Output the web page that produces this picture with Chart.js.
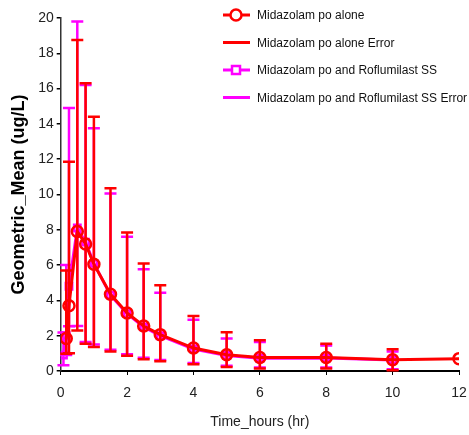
<!DOCTYPE html>
<html><head><meta charset="utf-8">
<script src="https://cdn.jsdelivr.net/npm/chart.js@4/dist/chart.umd.min.js"></script>
<style>html,body{margin:0;padding:0;background:#fff;}canvas{display:block;}</style>
</head><body>
<canvas id="c" width="469" height="435"></canvas>
<script>
// ---- data ----
const timeHours = [0.083, 0.167, 0.25, 0.5, 0.75, 1, 1.5, 2, 2.5, 3, 4, 5, 6, 8, 10, 12];
const aloneMean  = [null, 1.84, 3.70, 7.90, 7.20, 6.05, 4.35, 3.29, 2.55, 2.06, 1.30, 0.92, 0.76, 0.76, 0.64, 0.70];
const aloneUpper = [null, 5.70, 11.85, 18.75, 16.30, 14.40, 10.35, 7.85, 6.09, 4.86, 3.12, 2.20, 1.74, 1.55, 1.23, null];
const aloneLower = [null, 0.98, 1.00, 2.30, 1.55, 1.36, 1.10, 0.87, 0.66, 0.55, 0.38, 0.23, 0.14, 0.14, 0.04, null];
const comboMean  = [0.90, 2.00, 4.80, 8.10, 7.30, 6.10, 4.30, 3.25, 2.50, 2.00, 1.25, 0.88, 0.72, 0.74, 0.62, null];
const comboUpper = [2.18, 6.00, 14.90, 19.80, 16.20, 13.75, 10.05, 7.60, 5.77, 4.44, 2.91, 1.84, 1.65, 1.45, 1.10, null];
const comboLower = [0.32, 0.90, 2.53, 2.55, 1.64, 1.50, 1.20, 0.95, 0.75, 0.62, 0.45, 0.30, 0.20, 0.20, 0.10, null];
const seriesLabels = ["Midazolam po alone", "Midazolam po alone Error",
                      "Midazolam po and Roflumilast SS", "Midazolam po and Roflumilast SS Error"];
const xTicks = [0, 2, 4, 6, 8, 10, 12];
const yTicks = [0, 2, 4, 6, 8, 10, 12, 14, 16, 18, 20];
const xTitle = "Time_hours (hr)";
const yTitle = "Geometric_Mean (ug/L)";

const RED = '#ff0000', MAG = '#ff00ff';
const FONT = "'Liberation Sans', Arial, sans-serif";

function pts(mean) {
  return timeHours.map((t, i) => ({x: t, y: mean[i]})).filter(p => p.y != null);
}

const errorSets = [
  {upper: aloneUpper, lower: aloneLower, color: RED},
  {upper: comboUpper, lower: comboLower, color: MAG}
];

const errorBarPlugin = {
  id: 'errorBars',
  afterDatasetDraw(chart, args) {
    const e = errorSets[args.index];
    if (!e) return;
    const ctx = chart.ctx, xs = chart.scales.x, ys = chart.scales.y;
    ctx.save();
    ctx.strokeStyle = e.color;
    ctx.lineWidth = 2.5;
    timeHours.forEach((t, i) => {
      if (e.upper[i] == null) return;
      const px = xs.getPixelForValue(t);
      const pu = ys.getPixelForValue(e.upper[i]);
      const pl = ys.getPixelForValue(e.lower[i]);
      ctx.beginPath();
      ctx.moveTo(px, pu); ctx.lineTo(px, pl);
      ctx.moveTo(px - 6, pu); ctx.lineTo(px + 6, pu);
      ctx.moveTo(px - 6, pl); ctx.lineTo(px + 6, pl);
      ctx.stroke();
    });
    ctx.restore();
  }
};

const legendItems = [
  {color: RED, marker: 'circle'},
  {color: RED, marker: null},
  {color: MAG, marker: 'rect'},
  {color: MAG, marker: null}
];
const legendPlugin = {
  id: 'customLegend',
  afterDraw(chart) {
    const ctx = chart.ctx;
    const x0 = chart.chartArea.right - 236, y0 = chart.chartArea.top - 3, dy = 27.5;
    ctx.save();
    ctx.font = "12px " + FONT;
    ctx.textBaseline = 'middle';
    legendItems.forEach((it, i) => {
      const y = y0 + i * dy;
      ctx.strokeStyle = it.color;
      ctx.lineWidth = 3;
      ctx.beginPath(); ctx.moveTo(x0, y); ctx.lineTo(x0 + 27, y); ctx.stroke();
      ctx.lineWidth = 2.5;
      if (it.marker === 'circle') {
        ctx.fillStyle = '#fff';
        ctx.beginPath(); ctx.arc(x0 + 13, y, 5.5, 0, Math.PI * 2); ctx.fill(); ctx.stroke();
      } else if (it.marker === 'rect') {
        ctx.fillStyle = '#fff';
        ctx.fillRect(x0 + 9, y - 4, 8, 8); ctx.strokeRect(x0 + 9, y - 4, 8, 8);
      }
      ctx.fillStyle = '#111';
      ctx.fillText(seriesLabels[i], x0 + 34, y + 1);
    });
    ctx.restore();
  }
};

new Chart(document.getElementById('c'), {
  type: 'line',
  data: {
    datasets: [
      {label: seriesLabels[0], data: pts(aloneMean), borderColor: RED, borderWidth: 3,
       pointStyle: 'circle', pointRadius: 5.5, pointBorderWidth: 2.5, pointBorderColor: RED,
       pointBackgroundColor: 'rgba(0,0,0,0)', tension: 0, fill: false},
      {label: seriesLabels[2], data: pts(comboMean), borderColor: MAG, borderWidth: 3,
       pointStyle: 'rect', pointRadius: 4.5, pointBorderWidth: 2.5, pointBorderColor: MAG,
       pointBackgroundColor: 'rgba(0,0,0,0)', tension: 0, fill: false}
    ]
  },
  options: {
    responsive: false,
    animation: false,
    devicePixelRatio: 1,
    layout: {padding: {top: 18, right: 10, left: 0, bottom: 0}},
    plugins: {legend: {display: false}, tooltip: {enabled: false}},
    scales: {
      x: {
        type: 'linear', min: 0, max: 12,
        afterBuildTicks: s => { s.ticks = xTicks.map(v => ({value: v})); },
        afterFit: s => { s.height = 64; s.paddingRight = 0; s.paddingLeft = 0; },
        grid: {display: true, drawOnChartArea: false, drawTicks: true, tickLength: 4, color: '#000', lineWidth: 1},
        border: {display: true, color: '#000', width: 2},
        ticks: {color: '#222', font: {family: FONT, size: 14}, padding: 10, maxRotation: 0},
        title: {display: true, text: xTitle, color: '#222', font: {family: FONT, size: 14}, padding: {top: 4, bottom: 4}}
      },
      y: {
        type: 'linear', min: 0, max: 20,
        afterBuildTicks: s => { s.ticks = yTicks.map(v => ({value: v})); },
        afterFit: s => { s.width = 60.7; },
        grid: {display: true, drawOnChartArea: false, drawTicks: true, tickLength: 4, color: '#000', lineWidth: 1.5},
        border: {display: true, color: '#333', width: 1.5},
        ticks: {color: '#222', font: {family: FONT, size: 14}, padding: 3},
        title: {display: true, text: yTitle, color: '#000', font: {family: FONT, size: 18, weight: 'bold'}, padding: {top: 8, bottom: 2}}
      }
    }
  },
  plugins: [errorBarPlugin, legendPlugin]
});
</script>
</body></html>
